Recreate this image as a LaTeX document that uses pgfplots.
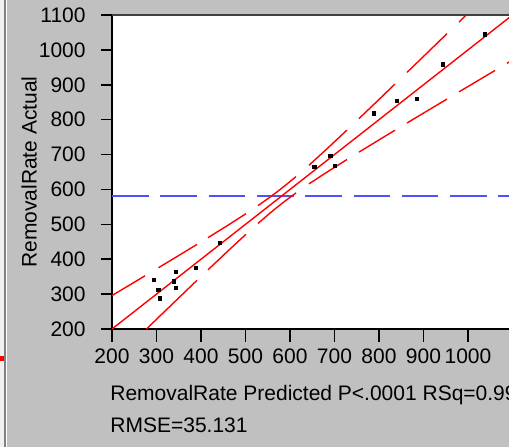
\documentclass[border=0pt]{standalone}
\usepackage{fontspec}
\setmainfont{Liberation Sans}
\usepackage{pgfplots}
\pgfplotsset{compat=1.18}
\definecolor{bg}{RGB}{192,192,192}
\definecolor{fitred}{RGB}{255,0,0}
\definecolor{meanblue}{RGB}{80,80,255}
\definecolor{frameg}{RGB}{64,64,64}
\begin{document}
\fontsize{10.5}{12}\selectfont
\begin{tikzpicture}[x=1pt,y=1pt]
\useasboundingbox (0,0) rectangle (254.5,223.5);
\begin{scope}
\clip (0,0) rectangle (254.5,223.5);
\fill[bg] (0,0) rectangle (254.5,223.5);
\fill[white!94!black] (0,0) rectangle (2,223.5);
\fill[gray] (2,0) rectangle (2.75,223.5);
\fill[white] (2.75,0) rectangle (3.5,223.5);
\fill[red] (0,43.25) rectangle (2,45.5);
\begin{axis}[
  at={(56pt,59pt)}, anchor=south west,
  scale only axis, width=200pt, height=157pt,
  xmin=200, xmax=1098.9, ymin=200, ymax=1100,
  axis line style={line width=1pt, black},
  axis background/.style={fill=white},
  tick align=outside,
  xtick pos=left, ytick pos=left,
  major tick length=5.5pt,
  tick style={draw=black, line width=0.75pt},
  xtick={200,300,400,500,600,700,800,900,1000},
  ytick={200,300,400,500,600,700,800,900,1000,1100},
  minor tick num=0,
  /pgf/number format/assume math mode=true,
  /pgf/number format/1000 sep={},
  ticklabel style={font=\fontsize{10.5}{12}\selectfont, inner sep=0pt},
  yticklabel style={anchor=east, xshift=-7.5pt},
  xticklabel style={anchor=north, yshift=-4pt},
  clip=true,
]
\addplot[meanblue, line width=0.9pt, dash pattern=on 18.3pt off 5.85pt] coordinates {(200,581.2) (1098.9,581.2)};
\addplot[fitred, line width=0.7pt] coordinates {(200,200) (1098.9,1098.9)};
\addplot[fitred, line width=0.7pt, unbounded coords=jump] coordinates {
(200,295.9) (237,324.1) (274.2,352.5) (290,nan)
(304.5,375.7) (348,409.2) (391,442.5) (400,nan)
(415.7,461.8) (458,495.3) (501,530.5) (515,nan)
(528,553.6) (550,573.3) (571,593.1) (592,614.2) (613.5,636.9) (630,nan)
(642.7,669.4) (685,718.7) (728,770.2) (740,nan)
(755,803.0) (795,851.9) (836,902.2) (850,nan)
(863,935.5) (908,991.1) (952.8,1046.5) (965,nan)
(979.8,1079.9) (996,1100)
};
\addplot[fitred, line width=0.7pt, unbounded coords=jump] coordinates {
(277.5,200) (304.5,233.3) (348,286.8) (391,339.5) (400,nan)
(415.7,369.6) (458,420.7) (501,471.5) (515,nan)
(528,502.4) (550,526.7) (571,548.9) (592,569.8) (613.5,590.1) (630,nan)
(642.7,616.0) (685,651.3) (728,685.8) (740,nan)
(755,707.0) (795,738.1) (836,769.8) (850,nan)
(863,790.5) (908,824.9) (952.8,859.1) (965,nan)
(979.8,879.7) (1020,910.2) (1060.7,941.1) (1075,nan)
(1087.6,961.5) (1098.9,970.1)
};
\addplot[only marks, mark=square*, mark size=0.85pt, black] coordinates {
(294,340) (304,312) (308,288) (344,364) (339,336) (344,317) (389,376) (443,446)
(655,665) (691,696) (701,668) (789,818) (840,853) (885,859) (943,958) (1038,1044)
};
\end{axis}
% frame top line and outside ticks (axis decorations)
\draw[line width=1.25pt, frameg] (56,216) -- (254.5,216);
\foreach \tx in {56,78.25,100.5,122.75,145,167.25,189.5,211.75,234}{
  \draw[black, line width=0.8pt] (\tx,59) -- (\tx,52.5);
}
\foreach \ty in {59,76.44,93.89,111.33,128.78,146.22,163.67,181.11,198.56,216}{
  \draw[black, line width=0.8pt] (56,\ty) -- (50.5,\ty);
}
\node[anchor=base west, inner sep=0pt] at (55,23.5) {RemovalRate Predicted P<.0001 RSq=0.99};
\node[anchor=base west, inner sep=0pt] at (55,7.5) {RMSE=35.131};
\node[rotate=90, inner sep=0pt] at (14.5,137.5) {RemovalRate Actual};
\end{scope}
\end{tikzpicture}
\end{document}
